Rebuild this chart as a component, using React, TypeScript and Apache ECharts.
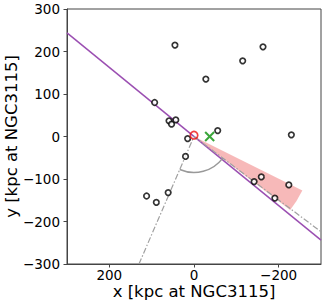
import React, { useEffect, useRef } from 'react';
import * as echarts from 'echarts';

// satellite positions [kpc]
const satX = [45, -163, -115, -28, 59, 53, 43, 93, 15, -56, -230, 20, 112, 89, 61, -142, -159, -224, -191];
const satY = [215, 211, 178, 135, 37, 29, 39, 80, -5, 14, 4, -47, -140, -155, -132, -106, -95, -114, -145];
// host galaxy and centroid
const hostPos = [0, 3];
const centroidPos = [-37, 0];
// major axis line
const majorX = [300, -300];
const majorY = [244, -244];
// dash-dot rays from origin
const ray1 = [130, -300];
const ray2 = [-300, -224];
const arcRadius = 85;
// wedge (radius, angles in degrees, data frame)
const wedgeRadius = 286;
const wedgeAngles = [-153.6, -142.7];
const xTickValues = [-200, 0, 200];

const FONT = 'DejaVu Sans';
const fmt = (v: number) => String(v).replace('-', '\u2212');

export default function App() {
  const ref = useRef<HTMLDivElement>(null);
  useEffect(() => {
    const chart = echarts.init(ref.current!, null, { renderer: 'svg' });
    const ang = (c: number[], p: number[]) => Math.atan2(p[1] - c[1], p[0] - c[0]);
    chart.setOption({
      animation: false,
      grid: {
        left: 67, right: 6, top: 9, bottom: 42, show: true, borderColor: '#444', borderWidth: 1,
        containLabel: false, outerBoundsMode: 'none',
      },
      xAxis: {
        type: 'value', min: -300, max: 300, inverse: true,
        name: 'x [kpc at NGC3115]', nameLocation: 'middle', nameGap: 19, nameMoveOverlap: false,
        nameTextStyle: { fontFamily: FONT, fontSize: 16.5, color: '#000' },
        axisLine: { show: true, onZero: false, lineStyle: { color: '#444' } },
        axisTick: { show: true, length: 3.5, customValues: xTickValues, lineStyle: { color: '#444' } },
        axisLabel: { customValues: xTickValues, formatter: fmt, fontFamily: FONT, fontSize: 13.5, color: '#000', margin: 4 },
        splitLine: { show: false },
      },
      yAxis: {
        type: 'value', min: -300, max: 300, interval: 100,
        name: 'y [kpc at NGC3115]', nameLocation: 'middle', nameGap: 47, nameMoveOverlap: false,
        nameTextStyle: { fontFamily: FONT, fontSize: 16.5, color: '#000' },
        axisLine: { show: true, onZero: false, lineStyle: { color: '#444' } },
        axisTick: { show: true, length: 3.5, lineStyle: { color: '#444' } },
        axisLabel: { formatter: fmt, fontFamily: FONT, fontSize: 13.5, color: '#000', margin: 7 },
        splitLine: { show: false },
      },
      series: [
        {
          type: 'custom', z: 1, data: [[0, 0]], encode: { x: 0, y: 1 }, silent: true,
          renderItem: (_p: any, api: any) => {
            const c = api.coord([0, 0]);
            const r = api.size([wedgeRadius, 0])[0];
            const pts = wedgeAngles.map((a) => api.coord([wedgeRadius * Math.cos(a * Math.PI / 180), wedgeRadius * Math.sin(a * Math.PI / 180)]));
            const a0 = ang(c, pts[0]);
            const a1 = ang(c, pts[1]);
            return {
              type: 'sector',
              shape: { cx: c[0], cy: c[1], r0: 0, r, startAngle: Math.min(a0, a1), endAngle: Math.max(a0, a1), clockwise: true },
              style: { fill: 'rgba(240,128,128,0.55)', stroke: 'none' },
            };
          },
        },
        {
          type: 'line', z: 2, data: majorX.map((x, i) => [x, majorY[i]]), showSymbol: false, symbol: 'none',
          lineStyle: { color: '#9b4fb2', width: 1.5 },
        },
        {
          type: 'line', z: 2, data: [ray1, [0, 0], ray2], showSymbol: false, symbol: 'none',
          lineStyle: { color: '#a0a0a0', width: 1.2, type: [6, 2, 1.5, 2] },
        },
        {
          type: 'custom', z: 3, data: [[0, 0]], encode: { x: 0, y: 1 }, silent: true,
          renderItem: (_p: any, api: any) => {
            const c = api.coord([0, 0]);
            const r = api.size([arcRadius, 0])[0];
            const a1 = ang(c, api.coord(ray1));
            const a2 = ang(c, api.coord(ray2));
            return {
              type: 'arc',
              shape: { cx: c[0], cy: c[1], r, startAngle: a2, endAngle: a1, clockwise: true },
              style: { stroke: '#999', lineWidth: 1.5, fill: 'none' },
            };
          },
        },
        {
          type: 'scatter', z: 5, data: satX.map((x, i) => [x, satY[i]]), symbol: 'circle', symbolSize: 5.5,
          itemStyle: { color: '#fff', borderColor: '#000', borderWidth: 1.7 },
        },
        {
          type: 'scatter', z: 6, data: [hostPos], symbol: 'circle', symbolSize: 7.5,
          itemStyle: { color: 'rgba(0,0,0,0)', borderColor: '#ee1111', borderWidth: 1.7 },
        },
        {
          type: 'custom', z: 6, data: [centroidPos], encode: { x: 0, y: 1 }, silent: true,
          renderItem: (_p: any, api: any) => {
            const p = api.coord([api.value(0), api.value(1)]);
            const h = 4.5;
            return {
              type: 'group',
              children: [
                { type: 'line', shape: { x1: p[0] - h, y1: p[1] - h, x2: p[0] + h, y2: p[1] + h }, style: { stroke: '#3aa63a', lineWidth: 2 } },
                { type: 'line', shape: { x1: p[0] - h, y1: p[1] + h, x2: p[0] + h, y2: p[1] - h }, style: { stroke: '#3aa63a', lineWidth: 2 } },
              ],
            };
          },
        },
      ],
    });
    return () => chart.dispose();
  }, []);
  return <div ref={ref} style={{ position: 'absolute', left: 0, top: 0, width: 327, height: 306 }} />;
}
